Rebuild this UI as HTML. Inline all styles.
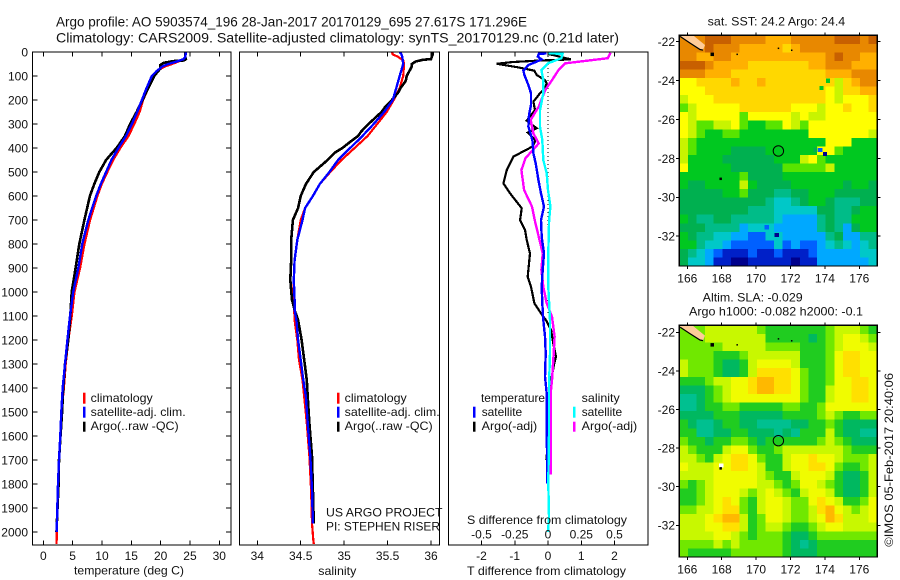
<!DOCTYPE html>
<html>
<head>
<meta charset="utf-8">
<title>Argo profile</title>
<style>
html,body{margin:0;padding:0;background:#fff;}
svg{display:block;}
text{font-family:"Liberation Sans",sans-serif;font-size:12px;fill:#111;}
.t{font-size:14px;}
.panel{fill:none;stroke:#000;stroke-width:1.2;shape-rendering:crispEdges;}
</style>
</head>
<body>
<svg id="chart" width="900" height="580" viewBox="0 0 900 580" xmlns="http://www.w3.org/2000/svg">
<defs>
<clipPath id="clip1"><rect x="32.5" y="52" width="198.5" height="493"/></clipPath>
<clipPath id="clip2"><rect x="239.5" y="52" width="200" height="493"/></clipPath>
<clipPath id="clip3"><rect x="448.5" y="52" width="199.5" height="493"/></clipPath>
</defs>
<text class="t" x="56" y="26.7" textLength="471" lengthAdjust="spacingAndGlyphs">Argo profile: AO 5903574_196 28-Jan-2017 20170129_695 27.617S 171.296E</text>
<text class="t" x="56" y="42.7" textLength="563" lengthAdjust="spacingAndGlyphs">Climatology: CARS2009. Satellite-adjusted climatology: synTS_20170129.nc (0.21d later)</text>

<g id="marks1" clip-path="url(#clip1)"></g>
<g id="marks2" clip-path="url(#clip2)"></g>
<g id="marks3" clip-path="url(#clip3)"></g>
<g id="map1"></g>
<g id="map2"></g>
<g id="axes"></g>

<rect class="panel" x="32.5" y="52" width="198.5" height="493"/>
<rect class="panel" x="239.5" y="52" width="200" height="493"/>
<rect class="panel" x="448.5" y="52" width="199.5" height="493"/>
<rect class="panel" x="679.3" y="35.3" width="198" height="230.7"/>
<rect class="panel" x="679.3" y="325.3" width="198" height="231.7"/>

<text x="74" y="574.5" textLength="110" lengthAdjust="spacingAndGlyphs">temperature (deg C)</text>
<text x="318.3" y="575" textLength="38" lengthAdjust="spacingAndGlyphs">salinity</text>
<text x="467" y="575" textLength="159" lengthAdjust="spacingAndGlyphs">T difference from climatology</text>
<text x="467" y="524" textLength="160" lengthAdjust="spacingAndGlyphs">S difference from climatology</text>

<g>
<rect x="83" y="392.7" width="2.5" height="11" fill="#ff0000"/>
<rect x="83" y="406.7" width="2.5" height="11" fill="#0000ff"/>
<rect x="83" y="421.7" width="2.5" height="10" fill="#000"/>
<text x="90.7" y="402" textLength="62" lengthAdjust="spacingAndGlyphs">climatology</text>
<text x="90.7" y="416" textLength="95" lengthAdjust="spacingAndGlyphs">satellite-adj. clim.</text>
<text x="90.7" y="430" textLength="88" lengthAdjust="spacingAndGlyphs">Argo(..raw -QC)</text>
</g>
<g>
<rect x="337" y="392.7" width="2.5" height="11" fill="#ff0000"/>
<rect x="337" y="406.7" width="2.5" height="11" fill="#0000ff"/>
<rect x="337" y="421.7" width="2.5" height="10" fill="#000"/>
<text x="344.7" y="402" textLength="62" lengthAdjust="spacingAndGlyphs">climatology</text>
<text x="344.7" y="416" textLength="95" lengthAdjust="spacingAndGlyphs">satellite-adj. clim.</text>
<text x="344.7" y="430" textLength="88" lengthAdjust="spacingAndGlyphs">Argo(..raw -QC)</text>
</g>
<g>
<text x="481" y="402" textLength="64" lengthAdjust="spacingAndGlyphs">temperature</text>
<text x="581.7" y="402" textLength="38" lengthAdjust="spacingAndGlyphs">salinity</text>
<rect x="473" y="406.7" width="2.5" height="11" fill="#0000ff"/>
<rect x="473" y="421.7" width="2.5" height="10" fill="#000"/>
<rect x="573" y="406.7" width="2.5" height="11" fill="#00ffff"/>
<rect x="573" y="421.7" width="2.5" height="10" fill="#ff00ff"/>
<text x="481.7" y="416" textLength="40.5" lengthAdjust="spacingAndGlyphs">satellite</text>
<text x="481.7" y="430" textLength="55.5" lengthAdjust="spacingAndGlyphs">Argo(-adj)</text>
<text x="581.7" y="416" textLength="40.5" lengthAdjust="spacingAndGlyphs">satellite</text>
<text x="581.7" y="430" textLength="55.5" lengthAdjust="spacingAndGlyphs">Argo(-adj)</text>
</g>
<text x="326" y="516.7" textLength="116.5" lengthAdjust="spacingAndGlyphs">US ARGO PROJECT</text>
<text x="326" y="530.7" textLength="114" lengthAdjust="spacingAndGlyphs">PI: STEPHEN RISER</text>

<text x="707.7" y="25.7" textLength="137.5" lengthAdjust="spacingAndGlyphs">sat. SST: 24.2 Argo: 24.4</text>
<text x="702.7" y="301.7" textLength="100" lengthAdjust="spacingAndGlyphs">Altim. SLA: -0.029</text>
<text x="689" y="315.7" textLength="174" lengthAdjust="spacingAndGlyphs">Argo h1000: -0.082 h2000: -0.1</text>
<text transform="translate(893,546.7) rotate(-90)" x="0" y="0" textLength="173.7" lengthAdjust="spacingAndGlyphs">©IMOS 05-Feb-2017 20:40:06</text>
</svg>

<script>
// ---- temperature profile data ----
const tempDepthsRed = [0,20,30,40,50,60,70,80,100,150,200,250,300,350,400,450,500,550,600,700,800,900,1000,1100,1200,1300,1400,1500,1600,1700,1800,1900,2000,2050];
const tempClimatology = [24.3,24.2,23.9,23.0,21.9,20.7,20.0,19.5,18.9,17.9,17.0,16.4,15.5,14.5,13.1,11.9,10.9,9.95,9.2,7.96,7.0,6.25,5.3,4.84,4.26,3.8,3.5,3.1,2.9,2.7,2.5,2.38,2.28,2.25];
const tempDepthsBlue = [0,20,30,40,50,60,70,80,100,150,200,250,300,350,400,450,500,550,600,700,800,900,1000,1100,1200,1300,1400,1500,1600,1700,1800,1900,2000];
const tempSatellite = [24.3,24.2,23.9,22.7,21.3,20.3,19.8,19.3,18.5,17.6,16.8,16.0,15.1,14.1,12.8,11.6,10.7,9.8,9.0,7.67,6.65,5.97,5.1,4.55,4.1,3.7,3.3,3.07,2.9,2.68,2.5,2.39,2.28];
const tempDepthsArgo = [0,20,30,35,38,45,55,70,100,150,200,250,300,350,400,430,450,500,550,600,700,800,900,1000,1100,1200,1300,1400,1500,1600,1700,1800,1900,2000];
const tempArgo = [24.2,24.2,24.3,24.0,22.2,20.5,19.9,19.9,18.9,17.9,16.9,15.9,14.8,13.9,12.5,11.4,10.7,9.55,8.7,7.95,7.0,6.14,5.5,4.84,4.6,4.26,3.7,3.4,3.2,2.93,2.68,2.6,2.42,2.25];

// ---- salinity profile data ----
const salDepthsRed = [0,10,20,35,50,100,150,200,250,300,350,400,450,500,550,600,650,700,783,867,950,1033,1117,1200,1283,1367,1436,1547,1686,1825,1964,2033,2050];
const salClimatology = [35.55,35.56,35.62,35.68,35.69,35.68,35.64,35.57,35.49,35.38,35.27,35.12,34.97,34.84,34.72,34.64,34.55,34.5,34.46,34.43,34.42,34.42,34.43,34.46,34.48,34.52,34.54,34.57,34.6,34.62,34.63,34.645,34.65];
const salDepthsBlue = [0,10,20,50,100,150,200,250,300,350,400,450,500,550,600,650,700,783,867,950,1033,1075,1117,1200,1283,1367,1436,1547,1686,1825,1964];
const salSatellite = [35.64,35.66,35.67,35.68,35.64,35.6,35.56,35.46,35.34,35.21,35.07,34.93,34.83,34.72,34.64,34.55,34.52,34.46,34.43,34.42,34.43,34.43,34.45,34.47,34.5,34.53,34.56,34.58,34.61,34.63,34.64];
const salDepthsArgo = [0,10,30,32,40,50,60,80,100,120,150,170,200,230,250,280,300,330,350,380,400,420,450,500,550,600,650,700,783,867,950,1033,1075,1117,1200,1283,1367,1436,1547,1686,1825,1964];
const salArgo = [36.02,36.02,36.0,35.91,35.82,35.78,35.78,35.75,35.72,35.71,35.65,35.62,35.55,35.47,35.43,35.34,35.28,35.2,35.16,35.05,34.98,34.89,34.81,34.65,34.56,34.5,34.47,34.41,34.39,34.39,34.38,34.4,34.43,34.47,34.51,34.54,34.57,34.58,34.6,34.63,34.64,34.65];

// ---- difference profile data ----
const diffDepthsTSat = [6,8,19,31,43,54,78,96,138,172,221,263,311,367,422,464,533,589,644,700,770,839,908,978,1047,1117,1186,1256,1353,1422,1589,1728,1797];
const diffTSat = [-0.04,-0.27,-0.31,-0.19,-0.39,-0.59,-0.74,-0.71,-0.59,-0.51,-0.51,-0.57,-0.59,-0.47,-0.44,-0.37,-0.29,-0.21,-0.12,-0.21,-0.19,-0.12,-0.16,-0.19,-0.17,-0.14,-0.09,-0.07,-0.09,-0.04,-0.04,-0.02,-0.02];
const diffDepthsTArgo = [8,31,36,42,49,64,78,96,117,131,151,172,207,242,286,318,336,367,394,436,492,547,589,651,700,742,783,839,881,936,978,1047,1089,1117,1158,1214,1269,1297,1353,1422,1506,1700];
const diffTArgo = [0.01,0.69,-0.29,-1.09,-1.54,-0.89,-0.41,-0.34,-0.09,-0.04,-0.09,-0.24,-0.44,-0.39,-0.64,-0.34,-0.61,-0.37,-0.47,-1.04,-1.24,-1.34,-1.14,-0.79,-0.84,-0.69,-0.64,-0.54,-0.57,-0.61,-0.51,-0.41,-0.21,-0.06,0.09,0.16,0.24,0.19,0.11,0.09,0.09,-0.05];
const diffDepthsSSat = [5,8,26,47,75,117,172,242,311,367,450,506,575,644,700,839,978,1117,1256,1394,1589,1797,1936,2000];
const diffSSat = [0.0,0.11,0.10,0.0,-0.05,-0.035,-0.035,-0.06,-0.06,-0.043,-0.035,-0.01,0.0,0.018,0.008,0.0025,0.0025,0.015,0.015,0.0075,0.0075,0.0025,0.0075,0.0];
const diffDepthsSArgo = [3,26,36,47,75,117,158,228,283,339,381,443,492,575,644,700,769,839,908,978,1047,1103,1186,1283,1367,1422,1589,1760];
const diffSArgo = [0.47,0.45,0.30,0.13,0.08,0.03,-0.02,-0.07,-0.13,-0.11,-0.07,-0.17,-0.2,-0.18,-0.12,-0.10,-0.07,-0.04,-0.05,-0.035,-0.01,0.03,0.05,0.04,0.03,0.02,0.02,0.02];

// ---- tick labels ----
const depthTicks = [0,100,200,300,400,500,600,700,800,900,1000,1100,1200,1300,1400,1500,1600,1700,1800,1900,2000];
const tempTicks = [0,5,10,15,20,25,30];
const salTicks = [34,34.5,35,35.5,36];
const tDiffTicks = [-2,-1,0,1,2];
const sDiffTicks = ['-0.5','-0.25','0','0.25','0.5'];
const lonTicks = [166,168,170,172,174,176];
const latTicks = [-22,-24,-26,-28,-30,-32];

// ---- map data: colour level per cell (hex digit), north to south ----
const sstPalette = ['#00008c','#0020c8','#0060ff','#00a8ff','#00c8c8','#00bc88','#00b050','#00c820','#58e400','#c8f400','#ffff00','#ffd800','#ffb000','#e88800','#c86000'];
const slaPalette = ['#00008c','#0020c8','#0060ff','#00a8ff','#00c8c8','#00c090','#00b860','#20cc20','#70e800','#c8f800','#f0fc00','#ffe000','#ffb800','#e88800','#c86000'];
const sstRows = [
"dddeeeddddcccdddddeeede",
"dddedddcccccbcddddddddd",
"ddccddcccccccccccdeddcc",
"eeedccccbbbbbbbccdddccc",
"dddcccbbbbbbbbbbbcccddd",
"aabbbbcbbcbbbbbbbb9bcdd",
"aaabbbbbbbbbbbbbba9bbcc",
"9aaabbbbbbbbbbbbba9aaab",
"89aaaaabbbbbbaaa9aabaab",
"a9aaaaa8aaaaa9a99aaaaaa",
"a98899a87788a98aaaaaaaa",
"a98778877777777aaaaaaa9",
"98777777777777777aaa777",
"9877776666777777aa87777",
"97777666666777 9a8777777".replace(/ /g,''),
"a7777766666688888977777",
"77777778666677777777777",
"76677779766667777776776",
"66666778666556677766666",
"66666666665445677655566",
"66666666555444446655677",
"76556655555433335655777",
"66655553444333335653677",
"76554433224433333563355",
"77544322222423223454345",
"65432111211211123333344",
"64431100111110113333334"
];
const slaRows = [
"88899999987777777899987",
"8889999999777776789aa98",
"8888899999888877789aaa9",
"888877789999997778abbaa",
"988876679aaaa97778abbaa",
"988876679bbbba8778abbaa",
"777899aabccbba8778aabba",
"666789aabccbba8779aabba",
"556789aaaaaaaa87 79aabba".replace(/ /g,''),
"55677887777788778aaaaaa",
"66667776666677778987788",
"76556776655556677876666",
"77556677666565777976655",
"87767788767777778987666",
"987779aa877899999998777",
"99879abba8779aabaa98889",
"a999aabba9779aabba87789",
"9999aaaaa98779aaa976679",
"8789aaaaa99878aa9876679",
"7789aaa989a9879aa976679",
"7789aba879aa988aba9778a",
"8899abb879aa9889bca989a",
"999abcc978aa9889acb999a",
"999aabb9789987789aa9999",
"9999aa98788876678888888",
"88889898888876567777777",
"87777788888876667777777"
];
const sstSpecks = [[173.73,-27.57,2],[174.0,-27.77,0],[171.2,-31.94,0],[170.62,-31.53,2],[174.18,-24.0,7],[173.8,-24.37,7],[173.45,-27.55,6]];
const slaSpecks = [[167.97,-28.9,'#ffffff']];
const coastDots = [[167.45,-22.65],[168.9,-22.65],[171.3,-22.34],[172.07,-22.44],[167.94,-29.05]];
const islandLon = [165.55,166.33,167.03,166.91,166.74,166.16,165.58];
const islandLat = [-21.67,-21.67,-22.17,-22.43,-22.4,-22.07,-21.73];
const floatPosition = [171.296,-27.617];

// ---- axis functions ----
const NS = 'http://www.w3.org/2000/svg';
const depthY = d => 52 + d * 0.24;
const tempX = t => 43.3 + t * 5.867;
const salX = s => 257.3 + (s - 34) * 86.85;
const tDiffX = t => 548 + t * 33.25;
const sDiffX = s => 548 + s * 133;
const lonX = lon => 687.3 + (lon - 166) * 17.2;
const latY1 = lat => 41.7 + (-22 - lat) * 19.45;
const latY2 = lat => 332.3 + (-22 - lat) * 19.3;

function mk(tag, attrs, parent) {
  const el = document.createElementNS(NS, tag);
  for (const k in attrs) el.setAttribute(k, attrs[k]);
  parent.appendChild(el);
  return el;
}
function drawLine(groupId, depths, values, xf, color, width, name) {
  const pts = depths.map((d, i) => xf(values[i]).toFixed(1) + ',' + depthY(d).toFixed(1)).join(' ');
  const el = mk('polyline', {points: pts, fill: 'none', stroke: color, 'stroke-width': width, 'shape-rendering': 'crispEdges'}, document.getElementById(groupId));
  
  
}

drawLine('marks1', tempDepthsRed, tempClimatology, tempX, '#ff0000', 2.4, 'climatology-temperature-line');
drawLine('marks1', tempDepthsArgo, tempArgo, tempX, '#000000', 2.6, 'argo-temperature-line');
drawLine('marks1', tempDepthsBlue, tempSatellite, tempX, '#0000ff', 2.4, 'satellite-temperature-line');

drawLine('marks2', salDepthsRed, salClimatology, salX, '#ff0000', 2.2, 'climatology-salinity-line');
drawLine('marks2', salDepthsArgo, salArgo, salX, '#000000', 2.6, 'argo-salinity-line');
drawLine('marks2', salDepthsBlue, salSatellite, salX, '#0000ff', 2.4, 'satellite-salinity-line');

// dotted zero line
const zeroLine = mk('line', {x1: tDiffX(0), x2: tDiffX(0), y1: depthY(0), y2: depthY(1100), stroke: '#000', 'stroke-width': 1, 'stroke-dasharray': '1 3'}, document.getElementById('marks3'));


drawLine('marks3', diffDepthsTArgo, diffTArgo, tDiffX, '#000000', 2.2, 'argo-t-difference-line');
drawLine('marks3', diffDepthsSArgo, diffSArgo, sDiffX, '#ff00ff', 2.4, 'argo-s-difference-line');
drawLine('marks3', diffDepthsTSat, diffTSat, tDiffX, '#0000ff', 2.4, 'satellite-t-difference-line');
drawLine('marks3', diffDepthsSSat, diffSSat, sDiffX, '#00ffff', 2.4, 'satellite-s-difference-line');

// ---- ticks and tick labels ----
const axes = document.getElementById('axes');
function tickLine(x1, y1, x2, y2) {
  const el = mk('line', {x1: x1, y1: y1, x2: x2, y2: y2, stroke: '#000', 'stroke-width': 1, 'shape-rendering': 'crispEdges'}, axes);
  
  
}
function tickLabel(x, y, anchor, txt) {
  const el = mk('text', {x: x, y: y, 'text-anchor': anchor}, axes);
  el.textContent = txt;
  
  
}
depthTicks.forEach(d => {
  tickLine(32.5, depthY(d), 37.5, depthY(d));
  tickLine(226, depthY(d), 231, depthY(d));
  tickLabel(28, depthY(d) + 4.4, 'end', String(d));
});
function xTicks(values, xf, labelY) {
  values.forEach(v => {
    tickLine(xf(v), 52, xf(v), 56.5);
    tickLine(xf(v), 540.5, xf(v), 545);
    tickLabel(xf(v), labelY, 'middle', String(v));
  });
}
xTicks(tempTicks, tempX, 560);
xTicks(salTicks, salX, 560);
xTicks(tDiffTicks, tDiffX, 560);
sDiffTicks.forEach(v => {
  tickLabel(sDiffX(parseFloat(v)), 538.7, 'middle', v);
});

// ---- maps ----
function drawMap(rows, palette, groupId, latY, topPx, heightPx, specks) {
  const g = document.getElementById(groupId);
  const cw = 198 / 23;
  const ch = heightPx / rows.length;
  rows.forEach((row, r) => {
    for (let c = 0; c < 23; c++) {
      const level = parseInt(row[c], 16);
      const cell = mk('rect', {x: (679.3 + c * cw).toFixed(2), y: (topPx + r * ch).toFixed(2), width: (cw + 0.4).toFixed(2), height: (ch + 0.4).toFixed(2), fill: palette[level], 'shape-rendering': 'crispEdges'}, g);
      
      
    }
  });
  specks.forEach(s => {
    const col = typeof s[2] === 'number' ? palette[s[2]] : s[2];
    const sp = mk('rect', {x: lonX(s[0]) - 2.1, y: latY(s[1]) - 2, width: 4.3, height: 4.2, fill: col, 'shape-rendering': 'crispEdges'}, g);
    
    
  });
  const ipts = islandLon.map((lon, i) => lonX(lon).toFixed(1) + ',' + latY(islandLat[i]).toFixed(1)).join(' ');
  const isl = mk('polygon', {points: ipts, fill: '#ffcc99'}, g);
  
  
  const coastPts = [6, 5, 4, 3].map(i => lonX(islandLon[i]).toFixed(1) + ',' + latY(islandLat[i]).toFixed(1)).join(' ');
  const coast = mk('polyline', {points: coastPts, fill: 'none', stroke: '#000', 'stroke-width': 1.2}, g);
  
  
  coastDots.forEach((p, i) => {
    const size = i === 0 ? 3.5 : (i === 4 ? 2.5 : 1.5);
    const dot = mk('rect', {x: lonX(p[0]) - size / 2, y: latY(p[1]) - size / 2, width: size, height: size, fill: '#000'}, g);
    
    
  });
  const marker = mk('circle', {cx: lonX(floatPosition[0]), cy: latY(floatPosition[1]), r: 5.2, fill: 'none', stroke: '#000', 'stroke-width': 1}, g);
  
  
}
drawMap(sstRows, sstPalette, 'map1', latY1, 35.3, 230.7, sstSpecks);
drawMap(slaRows, slaPalette, 'map2', latY2, 325.3, 231.7, slaSpecks);

function mapTicks(latY, top, bottom, labelY) {
  lonTicks.forEach(lon => {
    tickLine(lonX(lon), top - 3, lonX(lon), top);
    tickLine(lonX(lon), bottom, lonX(lon), bottom + 3);
    tickLabel(lonX(lon), labelY, 'middle', String(lon));
  });
  latTicks.forEach(lat => {
    tickLine(676, latY(lat), 679.3, latY(lat));
    tickLine(877.3, latY(lat), 880.3, latY(lat));
    tickLabel(675, latY(lat) + 4.4, 'end', String(lat));
  });
}
mapTicks(latY1, 35.3, 266, 282.7);
mapTicks(latY2, 325.3, 557, 573.7);
</script>
</body>
</html>
